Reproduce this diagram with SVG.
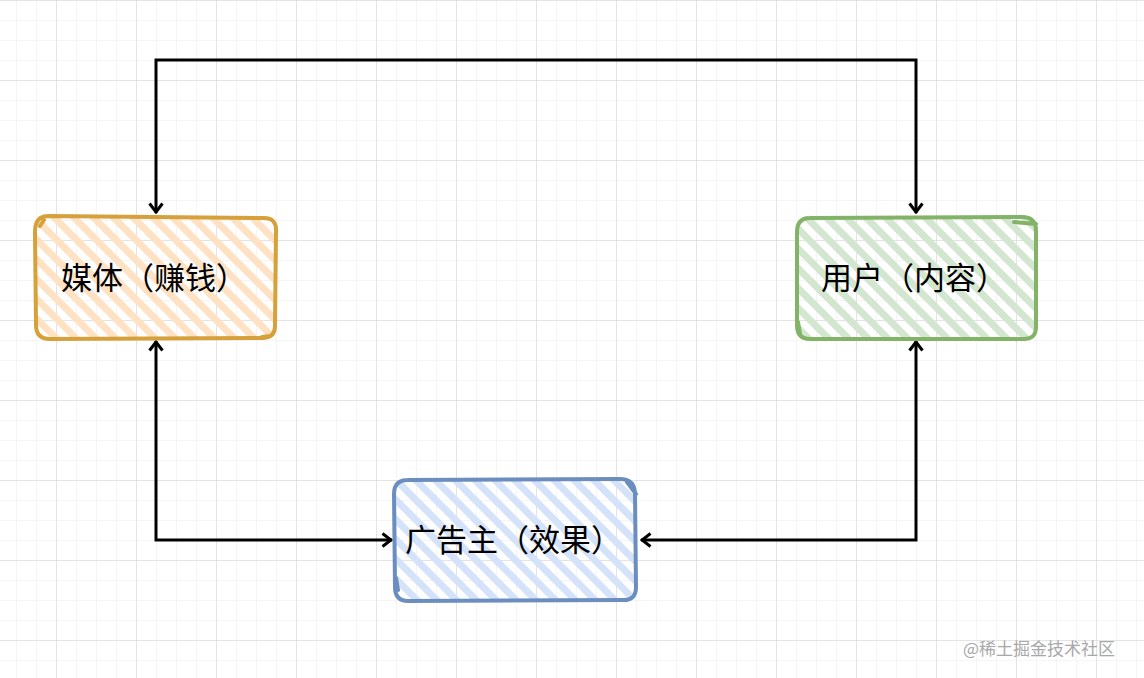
<svg xmlns="http://www.w3.org/2000/svg" width="1144" height="678" viewBox="0 0 1144 678">
<defs>
<pattern id="minor" width="20" height="20" patternUnits="userSpaceOnUse" x="16" y="0">
<path d="M0 0V20M0 0H20" fill="none" stroke="#ececec" stroke-width="1"/>
</pattern>
<pattern id="major" width="80" height="80" patternUnits="userSpaceOnUse" x="56" y="0">
<path d="M0 0V80M0 0H80" fill="none" stroke="#d4d4d4" stroke-width="1"/>
</pattern>
<pattern id="hOrange" width="14" height="14" patternUnits="userSpaceOnUse" patternTransform="rotate(45)">
<rect width="14" height="7" fill="#ffe2c4"/>
</pattern>
<pattern id="hGreen" width="14" height="14" patternUnits="userSpaceOnUse" patternTransform="rotate(45)">
<rect width="14" height="7" fill="#d2e6d0"/>
</pattern>
<pattern id="hBlue" width="14" height="14" patternUnits="userSpaceOnUse" patternTransform="rotate(45)">
<rect width="14" height="7" fill="#d4e3fa"/>
</pattern>
<marker id="arr" viewBox="0 0 12 16" refX="11" refY="8" markerWidth="12" markerHeight="16" markerUnits="userSpaceOnUse" orient="auto-start-reverse">
<path d="M1.5 1.5L10 8L1.5 14.5" fill="none" stroke="#000" stroke-width="3" stroke-linejoin="miter"/>
</marker>
</defs>
<style>
.edge{fill:none;stroke:#000;stroke-width:3;marker-start:url(#arr);marker-end:url(#arr)}
.lbl{font-family:"Noto Sans CJK SC","Noto Sans",sans-serif;font-size:31px;fill:#000}
.box{stroke-width:4;stroke-linecap:round;stroke-linejoin:round}
</style>
<rect width="1144" height="678" fill="#fff"/>
<rect width="1144" height="678" fill="url(#minor)"/>
<rect width="1144" height="678" fill="url(#major)"/>
<g id="connectors">
<path class="edge" d="M156 213V60H916V213"/>
<path class="edge" d="M156 341V540H392"/>
<path class="edge" d="M916 341V540H641"/>
</g>
<g id="node-media">
<path d="M40 222Q48 214 60 216L262 216Q276 216 275 230L276 326Q276 340 262 339L50 340Q34 340 35 326L34 230Q34 218 40 222Z" fill="url(#hOrange)"/>
<path class="box" d="M48 216L264 218Q277 218 276 232L275 326Q275 338 262 338L50 339Q36 339 36 325L35 232Q35 216 48 216M40 226L44 220M262 337L270 336" fill="none" stroke="#d6a03a"/>
<text class="lbl" x="61" y="289">媒体（赚钱）</text>
</g>
<g id="node-user">
<path d="M808 216L1024 216Q1038 216 1038 230L1037 326Q1037 340 1023 340L810 340Q796 340 796 326L796 230Q796 216 808 216Z" fill="url(#hGreen)"/>
<path class="box" d="M810 218L1022 217Q1036 217 1036 231L1036 327Q1036 340 1022 339L810 339Q797 339 797 325L797 232Q797 218 810 218M1014 222L1036 224M798 322L800 334" fill="none" stroke="#82b366"/>
<text class="lbl" x="821" y="289">用户（内容）</text>
</g>
<g id="node-advertiser">
<path d="M408 478L622 478Q637 478 636 492L637 588Q637 602 623 602L408 602Q394 602 394 588L394 492Q394 478 408 478Z" fill="url(#hBlue)"/>
<path class="box" d="M408 480L620 479Q634 479 635 493L636 587Q636 601 622 600L408 601Q395 601 395 587L394 494Q394 480 408 480M627 482L636 494M396 578L398 590" fill="none" stroke="#6c8ebf"/>
<text class="lbl" x="405" y="551">广告主（效果）</text>
</g>
<text x="963" y="655" style="font-family:'Noto Sans CJK SC',sans-serif;font-size:17px;fill:#a8a8a8">@稀土掘金技术社区</text>
</svg>
